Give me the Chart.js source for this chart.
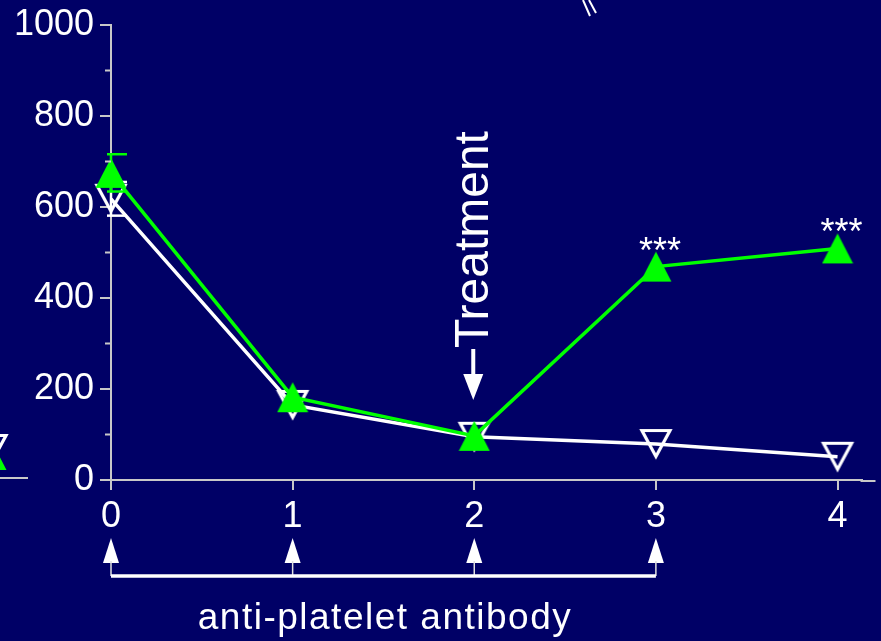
<!DOCTYPE html>
<html><head><meta charset="utf-8">
<script src="https://cdn.jsdelivr.net/npm/chart.js@4/dist/chart.umd.min.js"></script>
<style>html,body{margin:0;padding:0;background:#000066;}canvas{display:block;}</style>
</head><body>
<canvas id="c" width="881" height="641"></canvas>
<script>
// ---- data ----
const xValues = [0, 1, 2, 3, 4];
const greenValues = [675, 182, 97, 469, 509];
const greenErrors = [41, 0, 0, 0, 0];
const whiteValues = [618, 165, 95, 79, 51];
const whiteErrors = [37, 0, 0, 0, 0];
const xTicks = [0, 1, 2, 3, 4];
const yTicks = [0, 200, 400, 600, 800, 1000];
const yMinorTicks = [100, 300, 500, 700, 900];
const significance = ['', '', '', '***', '***'];
const antibodyDays = [0, 1, 2, 3];
const treatmentDay = 2;
const treatmentLabel = 'Treatment';
const xAxisLabel = 'anti-platelet antibody';

const BG = '#000066';
const AXIS = '#c8c8c8';
const GREEN = '#00ff00';
const WHITE = '#ffffff';
const FONT = "'Liberation Sans', Arial, sans-serif";
Chart.defaults.font.family = FONT;

function upTri(color) {
  const c = document.createElement('canvas'); c.width = 32; c.height = 32;
  const g = c.getContext('2d'); g.fillStyle = color;
  g.beginPath(); g.moveTo(16, 1); g.lineTo(31.5, 31); g.lineTo(0.5, 31); g.closePath(); g.fill();
  return c;
}
function downTriOutline(color) {
  const c = document.createElement('canvas'); c.width = 36; c.height = 36;
  const g = c.getContext('2d'); g.strokeStyle = color; g.lineWidth = 3.2; g.lineJoin = 'miter';
  g.beginPath(); g.moveTo(4, 4.5); g.lineTo(32, 4.5); g.lineTo(18, 30.5); g.closePath(); g.stroke();
  return c;
}
const greenMarker = upTri(GREEN);
const whiteMarker = downTriOutline(WHITE);

function line(ctx, x1, y1, x2, y2, w, col) {
  ctx.save(); ctx.strokeStyle = col; ctx.lineWidth = w;
  ctx.beginPath(); ctx.moveTo(x1, y1); ctx.lineTo(x2, y2); ctx.stroke(); ctx.restore();
}
function arrowHead(ctx, x, tipY, baseY, halfW, col) {
  ctx.save(); ctx.fillStyle = col; ctx.beginPath();
  ctx.moveTo(x, tipY); ctx.lineTo(x + halfW, baseY); ctx.lineTo(x - halfW, baseY); ctx.closePath(); ctx.fill(); ctx.restore();
}

const deco = {
  id: 'deco',
  beforeDraw(chart) {
    const ctx = chart.ctx; ctx.save(); ctx.fillStyle = BG; ctx.fillRect(0, 0, chart.width, chart.height); ctx.restore();
  },
  afterDatasetDraw(chart, args) {
    const ds = chart.data.datasets[args.index];
    const meta = args.meta; const ys = chart.scales.y; const ctx = chart.ctx;
    (ds.errors || []).forEach((e, i) => {
      if (!e) return;
      const p = meta.data[i]; const v = ds.data[i].y;
      const yt = ys.getPixelForValue(v + e), yb = ys.getPixelForValue(v - e);
      line(ctx, p.x, yt, p.x, yb, 2.5, ds.borderColor);
      line(ctx, p.x - 4, yt, p.x + 16, yt, 2.5, ds.borderColor);
      line(ctx, p.x - 4, yb, p.x + 16, yb, 2.5, ds.borderColor);
    });
  },
  afterDraw(chart) {
    const ctx = chart.ctx; const xs = chart.scales.x, ys = chart.scales.y; const ca = chart.chartArea;
    // x axis line continues a little past the plotting area
    line(ctx, ca.right - 1, ca.bottom + 1, ca.right + 14, ca.bottom + 1, 2, AXIS);
    // minor y ticks
    yMinorTicks.forEach(v => { const y = ys.getPixelForValue(v); line(ctx, ca.left - 6, y, ca.left, y, 2, AXIS); });
    // significance stars
    ctx.save(); ctx.fillStyle = WHITE; ctx.font = '36px ' + FONT; ctx.textAlign = 'center'; ctx.textBaseline = 'alphabetic';
    significance.forEach((s, i) => {
      if (!s) return;
      ctx.fillText(s, xs.getPixelForValue(xValues[i]) + 4, ys.getPixelForValue(greenValues[i]) - 4);
    });
    ctx.restore();
    // treatment annotation
    const tx = xs.getPixelForValue(treatmentDay);
    ctx.save(); ctx.fillStyle = WHITE; ctx.font = '48px ' + FONT; ctx.textAlign = 'left'; ctx.textBaseline = 'alphabetic';
    ctx.translate(tx + 14, 348); ctx.rotate(-Math.PI / 2); ctx.fillText(treatmentLabel, 0, 0); ctx.restore();
    line(ctx, tx - 1, 349, tx - 1, 377, 4, WHITE);
    arrowHead(ctx, tx - 1, 400, 374, 10, WHITE);
    // antibody injections
    antibodyDays.forEach(d => {
      const x = xs.getPixelForValue(d);
      arrowHead(ctx, x, 538, 563, 8, WHITE);
      line(ctx, x, 561, x, 576, 1.5, '#e0e0e0');
    });
    line(ctx, xs.getPixelForValue(antibodyDays[0]), 576, xs.getPixelForValue(antibodyDays[antibodyDays.length - 1]), 576, 3.5, WHITE);
    ctx.save(); ctx.fillStyle = WHITE; ctx.font = '37px ' + FONT; ctx.textAlign = 'center'; ctx.textBaseline = 'alphabetic';
    if ('letterSpacing' in ctx) ctx.letterSpacing = '1.5px';
    ctx.fillText(xAxisLabel, 385, 629); ctx.restore();
    // cropped remnants of neighbouring panels
    line(ctx, 583, 0, 590, 16, 2, WHITE);
    line(ctx, 589, 0, 596, 13, 2, WHITE);
    line(ctx, 0, 478, 28, 478, 2, AXIS);
    ctx.drawImage(whiteMarker, -8 - 18, 449 - 18);
    ctx.drawImage(greenMarker, -9 - 16, 455 - 16);
  }
};

new Chart(document.getElementById('c'), {
  type: 'line',
  data: {
    datasets: [
      { label: 'treated', data: xValues.map((x, i) => ({ x, y: greenValues[i] })), errors: greenErrors,
        borderColor: GREEN, borderWidth: 3.5, pointStyle: greenMarker, pointRadius: 16, tension: 0, clip: false },
      { label: 'control', data: xValues.map((x, i) => ({ x, y: whiteValues[i] })), errors: whiteErrors,
        borderColor: WHITE, borderWidth: 3.5, pointStyle: whiteMarker, pointRadius: 16, tension: 0, clip: false }
    ]
  },
  options: {
    responsive: false, animation: false, events: [],
    layout: { padding: { top: 25, right: 5, left: 0, bottom: 0 } },
    plugins: { legend: { display: false }, tooltip: { enabled: false } },
    scales: {
      x: {
        type: 'linear', min: 0, max: 4.132,
        afterBuildTicks: s => { s.ticks = xTicks.map(v => ({ value: v })); },
        afterFit: s => { s.height = 161; },
        grid: { drawOnChartArea: false, tickLength: 10, color: AXIS, lineWidth: 2 },
        border: { color: AXIS, width: 2 },
        ticks: { color: WHITE, font: { size: 36 }, padding: 5, maxRotation: 0, autoSkip: false,
                 callback: v => String(v) }
      },
      y: {
        min: 0, max: 1000,
        afterBuildTicks: s => { s.ticks = yTicks.map(v => ({ value: v })); },
        afterFit: s => { s.width = 111; s.paddingTop = 0; s.paddingBottom = 0; },
        grid: { drawOnChartArea: false, tickLength: 11, color: AXIS, lineWidth: 2 },
        border: { color: AXIS, width: 2 },
        ticks: { color: WHITE, font: { size: 36 }, padding: 6, callback: v => String(v) }
      }
    }
  },
  plugins: [deco]
});
</script>
</body></html>
